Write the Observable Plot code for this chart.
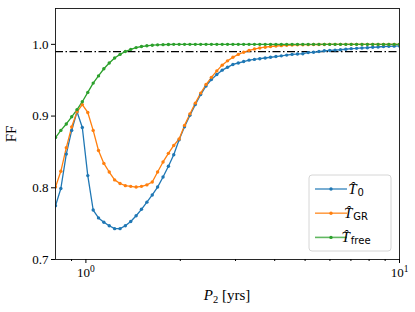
<!DOCTYPE html>
<html><head><meta charset="utf-8">
<script src="https://cdn.jsdelivr.net/npm/d3@7"></script>
<script src="https://cdn.jsdelivr.net/npm/@observablehq/plot@0.6"></script>
<style>body{margin:0;background:#fff}</style>
</head><body><div id="chart"></div>
<script>
const P2 = [0.800,0.832,0.866,0.901,0.937,0.974,1.014,1.055,1.097,1.141,1.187,1.235,1.285,1.336,1.390,1.446,1.504,1.565,1.628,1.693,1.762,1.833,1.906,1.983,2.063,2.146,2.233,2.323,2.416,2.513,2.615,2.720,2.829,2.943,3.062,3.185,3.313,3.447,3.585,3.730,3.880,4.036,4.199,4.368,4.544,4.727,4.917,5.115,5.321,5.535,5.758,5.990,6.231,6.482,6.743,7.015,7.297,7.591,7.897,8.215,8.546,8.890,9.248,9.614,10.000];
const FF_T0 = [0.775,0.799,0.847,0.880,0.906,0.884,0.817,0.769,0.758,0.752,0.747,0.743,0.743,0.747,0.753,0.761,0.770,0.780,0.790,0.801,0.815,0.830,0.846,0.867,0.885,0.901,0.916,0.930,0.942,0.951,0.958,0.964,0.968,0.972,0.974,0.976,0.978,0.979,0.980,0.981,0.982,0.983,0.984,0.985,0.986,0.9865,0.987,0.9885,0.989,0.990,0.991,0.9915,0.992,0.9925,0.9932,0.994,0.9944,0.995,0.9953,0.996,0.9963,0.997,0.9972,0.9975,0.9978];
const FF_TGR = [0.801,0.823,0.856,0.885,0.906,0.916,0.905,0.880,0.852,0.834,0.822,0.811,0.806,0.803,0.802,0.801,0.802,0.804,0.808,0.822,0.836,0.848,0.859,0.868,0.887,0.903,0.918,0.932,0.944,0.954,0.963,0.971,0.977,0.982,0.986,0.989,0.9915,0.9935,0.995,0.996,0.997,0.9977,0.9982,0.9986,0.999,0.9993,0.9995,0.9996,0.9997,0.9998,0.9999,1.000,1.000,1.000,1.000,1.000,1.000,1.000,1.000,1.000,1.000,1.000,1.000,1.000,1.000];
const FF_Tfree = [0.870,0.880,0.889,0.899,0.909,0.920,0.933,0.946,0.956,0.966,0.974,0.981,0.986,0.990,0.993,0.9955,0.997,0.998,0.9988,0.9993,0.9996,0.9998,1.000,1.000,1.000,1.000,1.000,1.000,1.000,1.000,1.000,1.000,1.000,1.000,1.000,1.000,1.000,1.000,1.000,1.000,1.000,1.000,1.000,1.000,1.000,1.000,1.000,1.000,1.000,1.000,1.000,1.000,1.000,1.000,1.000,1.000,1.000,1.000,1.000,1.000,1.000,1.000,1.000,1.000,1.000];
const seriesNames = ["T0","TGR","Tfree"];
const seriesSubs = ["0","GR","free"];
const seriesColors = ["#1f77b4","#ff7f0e","#2ca02c"];
const threshold = 0.99;
const yTicks = [0.7,0.8,0.9,1.0];
const xMajor = [1,10];
const xMajorExp = ["0","1"];
const xMinor = [0.9,2,3,4,5,6,7,8,9];

const seriesValues = [FF_T0, FF_TGR, FF_Tfree];
const data = [];
seriesValues.forEach((vals,k)=>vals.forEach((v,i)=>data.push({x:P2[i], y:v, s:seriesNames[k]})));

const serif = "'Liberation Serif', 'DejaVu Serif', serif";
const chart = Plot.plot({
  width:415, height:312,
  marginLeft:55, marginRight:16, marginTop:8, marginBottom:53,
  style:{fontFamily:serif, fontSize:"13px", color:"black", background:"white"},
  x:{type:"log", domain:[0.8,10]},
  y:{domain:[0.7,1.05]},
  color:{domain:seriesNames, range:seriesColors},
  marks:[
    Plot.ruleY([threshold], {stroke:"black", strokeWidth:1.2, strokeDasharray:"8,2.5,1.5,2.5"}),
    Plot.line(data, {x:"x", y:"y", z:"s", stroke:"s", strokeWidth:1.3, clip:true}),
    Plot.dot(data, {x:"x", y:"y", fill:"s", r:1.7, clip:true}),
    Plot.frame({stroke:"#111", strokeWidth:0.9}),
    Plot.axisY({ticks:yTicks, tickFormat:d3.format(".1f"), tickSize:4, tickPadding:3, fontSize:13, label:null}),
    Plot.axisX({ticks:xMajor, tickFormat:()=>"10", tickSize:4, tickPadding:4, fontSize:13, label:null}),
    Plot.axisX({ticks:xMinor, tickFormat:()=>"", tickSize:2, label:null})
  ]
});
document.getElementById("chart").appendChild(chart);
const svg = d3.select(chart);

svg.selectAll('g[aria-label="x-axis tick label"] text').each(function(d,i){
  const t = d3.select(this);
  if (i >= xMajorExp.length) return;
  t.text(null);
  t.append("tspan").text("10");
  t.append("tspan").attr("dy","-0.45em").attr("font-size","9.5px").text(xMajorExp[i]);
});

svg.append("text").attr("transform","translate(16,134) rotate(-90)")
  .attr("text-anchor","middle").attr("font-family",serif).attr("font-size","15px").attr("fill","black").text("FF");
const xl = svg.append("text").attr("x",227).attr("y",300).attr("text-anchor","middle")
  .attr("font-family",serif).attr("font-size","15px").attr("fill","black");
xl.append("tspan").attr("font-style","italic").attr("font-family",serif).text("P");
xl.append("tspan").attr("dy","3").attr("font-size","10.5px").attr("font-family",serif).text("2");
xl.append("tspan").attr("dy","-3").attr("font-family",serif).text("\u00a0[yrs]");

const lg = svg.append("g");
lg.append("rect").attr("x",309).attr("y",175).attr("width",82).attr("height",76).attr("rx",3)
  .attr("fill","white").attr("fill-opacity",0.8).attr("stroke","#d6d6d6").attr("stroke-width",1);
seriesNames.forEach((n,k)=>{
  const y = 189 + 24.2*k;
  lg.append("line").attr("x1",315).attr("x2",347).attr("y1",y).attr("y2",y)
    .attr("stroke",seriesColors[k]).attr("stroke-width",1.6).attr("stroke-opacity",0.75);
  lg.append("circle").attr("cx",331).attr("cy",y).attr("r",1.7).attr("fill",seriesColors[k]);
  const t = lg.append("text").attr("x",356).attr("y",y+5).attr("font-family",serif).attr("font-size","15px").attr("fill","black");
  t.append("tspan").attr("font-style","italic").text("T\u0302");
  t.append("tspan").attr("dy","2").attr("dx","1").attr("font-family","'DejaVu Sans', sans-serif").attr("font-size","10px").text(seriesSubs[k]);
});
</script></body></html>
